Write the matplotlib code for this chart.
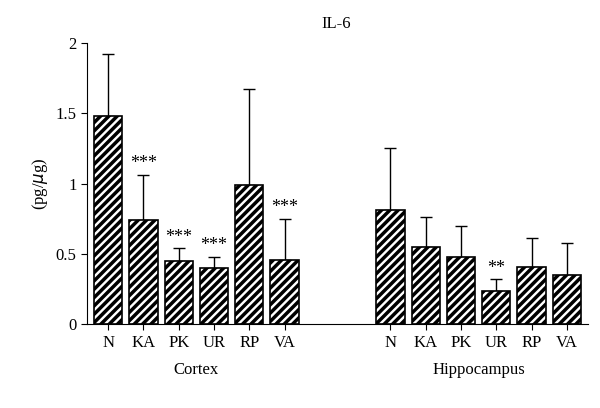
import matplotlib
matplotlib.use("Agg")
import matplotlib.pyplot as plt

plt.rcParams['font.family'] = 'Liberation Serif'
plt.rcParams['hatch.linewidth'] = 2.5

labels = ["N", "KA", "PK", "UR", "RP", "VA"]
cortex = [1.48, 0.74, 0.45, 0.40, 0.99, 0.46]
cortex_err = [0.44, 0.32, 0.09, 0.08, 0.68, 0.29]
cortex_sig = ["", "***", "***", "***", "", "***"]
hippo = [0.81, 0.55, 0.48, 0.24, 0.41, 0.35]
hippo_err = [0.44, 0.21, 0.22, 0.08, 0.20, 0.23]
hippo_sig = ["", "", "", "**", "", ""]

fig = plt.figure(figsize=(6, 4.08), dpi=100)
ax = fig.add_axes([0.145, 0.205, 0.835, 0.69])

xc = list(range(6))
xh = [i + 8 for i in range(6)]
for xs, vals, errs, sigs in [(xc, cortex, cortex_err, cortex_sig), (xh, hippo, hippo_err, hippo_sig)]:
    ax.bar(xs, vals, width=0.8, color='white', edgecolor='black', hatch='////', linewidth=1.2, zorder=2)
    ax.errorbar(xs, vals, yerr=[[0]*6, errs], fmt='none', ecolor='black', elinewidth=1, capsize=4, zorder=1)
    for x, v, e, s in zip(xs, vals, errs, sigs):
        if s:
            ax.text(x, v + e + 0.02, s, ha='center', va='bottom', fontsize=13)

ax.set_xticks(xc + xh)
ax.set_xticklabels(labels + labels, fontsize=12)
ax.set_xlim(-0.6, 13.6)
ax.set_ylim(0, 2)
ax.set_yticks([0, 0.5, 1, 1.5, 2])
ax.set_yticklabels(["0", "0.5", "1", "1.5", "2"], fontsize=12)
ax.set_ylabel("(pg/$\\mu$g)", fontsize=12)
for s in ['top', 'right']:
    ax.spines[s].set_visible(False)
ax.tick_params(direction='out', length=4)
ax.text(2.5, -0.27, "Cortex", ha='center', va='top', fontsize=12)
ax.text(10.5, -0.27, "Hippocampus", ha='center', va='top', fontsize=12)
fig.text(0.56, 0.94, "IL-6", ha='center', va='center', fontsize=12)
fig.savefig("out.png")
